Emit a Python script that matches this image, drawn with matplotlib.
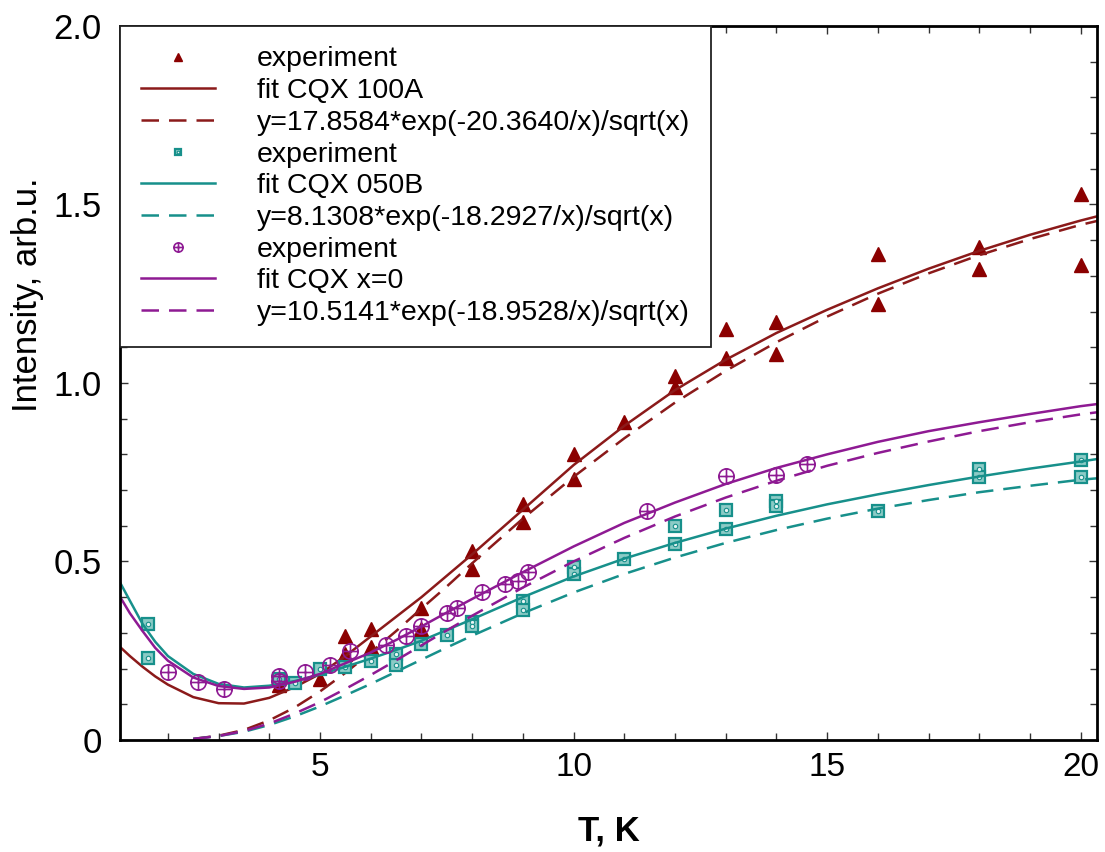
import matplotlib
matplotlib.use("Agg")
import matplotlib.pyplot as plt
from matplotlib import font_manager
from matplotlib.path import Path
import numpy as np

# ====== data ======
# experiment points (T in K, intensity in arb.u.)
red_T = [4.2, 5.0, 5.5, 5.5, 6.0, 6.0, 7.0, 7.0, 8.0, 8.0, 9.0, 9.0, 10.0, 10.0,
         11.0, 12.0, 12.0, 13.0, 13.0, 14.0, 14.0, 16.0, 16.0, 18.0, 18.0, 20.0, 20.0]
red_y = [0.155, 0.17, 0.29, 0.24, 0.31, 0.26, 0.37, 0.31, 0.53, 0.48, 0.66, 0.61, 0.80, 0.73,
         0.89, 1.02, 0.99, 1.15, 1.07, 1.17, 1.08, 1.36, 1.22, 1.38, 1.32, 1.53, 1.33]

teal_T = [1.6, 1.6, 4.2, 4.5, 5.0, 5.5, 6.0, 6.5, 6.5, 7.0, 7.5, 8.0, 8.0, 9.0, 9.0,
          10.0, 10.0, 11.0, 12.0, 12.0, 13.0, 13.0, 14.0, 14.0, 16.0, 18.0, 18.0, 20.0, 20.0]
teal_y = [0.325, 0.23, 0.17, 0.16, 0.20, 0.205, 0.22, 0.24, 0.21, 0.27, 0.295, 0.33, 0.32, 0.39, 0.365,
          0.485, 0.465, 0.507, 0.60, 0.55, 0.645, 0.59, 0.67, 0.655, 0.64, 0.76, 0.737, 0.784, 0.737]

purp_T = [2.0, 2.6, 3.1, 4.2, 4.2, 4.7, 5.2, 5.6, 6.3, 6.7, 7.0, 7.5, 7.7, 8.2, 8.65,
          8.9, 9.1, 11.45, 13.0, 14.0, 14.6]
purp_y = [0.19, 0.162, 0.143, 0.18, 0.165, 0.19, 0.21, 0.25, 0.265, 0.29, 0.32, 0.355, 0.37, 0.415, 0.437,
          0.445, 0.47, 0.64, 0.74, 0.742, 0.773]

# fit curves (solid)
fit_T = [1.06, 1.25, 1.5, 1.75, 2.0, 2.5, 3.0, 3.5, 4.0, 4.5, 5.0, 5.5, 6.0, 6.5, 7.0, 7.5, 8.0,
         9.0, 10.0, 11.0, 12.0, 13.0, 14.0, 15.0, 16.0, 17.0, 18.0, 19.0, 20.0, 20.33]
fit_red = [0.26, 0.235, 0.205, 0.178, 0.155, 0.12, 0.103, 0.102, 0.118, 0.148, 0.185, 0.235, 0.29, 0.345,
           0.40, 0.46, 0.52, 0.645, 0.77, 0.88, 0.98, 1.065, 1.14, 1.205, 1.265, 1.32, 1.37, 1.415, 1.455, 1.467]
fit_teal = [0.44, 0.39, 0.325, 0.275, 0.235, 0.185, 0.157, 0.147, 0.152, 0.165, 0.183, 0.205, 0.228, 0.252,
            0.278, 0.308, 0.338, 0.40, 0.458, 0.508, 0.552, 0.592, 0.628, 0.66, 0.688, 0.714, 0.738, 0.76, 0.78, 0.787]
fit_purp = [0.40, 0.355, 0.305, 0.258, 0.222, 0.175, 0.151, 0.143, 0.147, 0.163, 0.185, 0.215, 0.245, 0.28,
            0.318, 0.357, 0.395, 0.47, 0.542, 0.608, 0.665, 0.717, 0.762, 0.80, 0.835, 0.865, 0.89, 0.913, 0.935, 0.941]

# activation-law curves (dashed)
act_T = [2.5, 3.0, 3.5, 4.0, 4.5, 5.0, 5.5, 6.0, 6.5, 7.0, 7.5, 8.0, 9.0, 10.0, 11.0, 12.0,
         13.0, 14.0, 15.0, 16.0, 17.0, 18.0, 19.0, 20.0, 20.33]
act_red = [0.003, 0.012, 0.028, 0.055, 0.091, 0.136, 0.188, 0.245, 0.305, 0.368, 0.43, 0.495, 0.62, 0.737,
           0.845, 0.945, 1.034, 1.114, 1.186, 1.25, 1.307, 1.358, 1.403, 1.443, 1.454]
act_teal = [0.003, 0.011, 0.023, 0.042, 0.066, 0.094, 0.125, 0.157, 0.191, 0.225, 0.259, 0.292, 0.355, 0.413,
            0.465, 0.511, 0.552, 0.588, 0.62, 0.648, 0.672, 0.694, 0.712, 0.729, 0.733]
act_purp = [0.003, 0.011, 0.025, 0.046, 0.074, 0.106, 0.143, 0.182, 0.223, 0.265, 0.307, 0.348, 0.427, 0.50,
            0.566, 0.626, 0.679, 0.726, 0.768, 0.804, 0.836, 0.865, 0.89, 0.912, 0.918]

labels_red = ["experiment", "fit CQX 100A", "y=17.8584*exp(-20.3640/x)/sqrt(x)"]
labels_teal = ["experiment", "fit CQX 050B", "y=8.1308*exp(-18.2927/x)/sqrt(x)"]
labels_purp = ["experiment", "fit CQX x=0", "y=10.5141*exp(-18.9528/x)/sqrt(x)"]

RED = "#8B1A1A"
TEAL = "#17908B"
PURP = "#8E1A93"


def pick_font(name, fallback):
    try:
        font_manager.findfont(name, fallback_to_default=False)
        return name
    except Exception:
        return fallback


NARROW = pick_font("Liberation Sans Narrow", "Liberation Sans")
plt.rcParams["font.family"] = ["Liberation Sans", "DejaVu Sans"]

# circle with a plus inside
circ = Path.unit_circle()
cross = Path([(-1, 0), (1, 0), (0, -1), (0, 1)],
             [Path.MOVETO, Path.LINETO, Path.MOVETO, Path.LINETO])
oplus = Path.make_compound_path(circ, cross)

fig = plt.figure(figsize=(11.05, 8.52), dpi=100)
ax = fig.add_axes([0.1086, 0.1315, 0.8845, 0.838])

dash = (7, 4)

h1, = ax.plot(red_T, red_y, ls="none", marker="^", ms=10, color="#8B0000", mec="#8B0000")
h2, = ax.plot(fit_T, fit_red, color=RED, lw=1.8)
h3, = ax.plot(act_T, act_red, color=RED, lw=1.8, dashes=dash)

h4a, = ax.plot(teal_T, teal_y, ls="none", marker="s", ms=8, mfc="#8ccbc6", mec=TEAL, mew=1.6)
h4b, = ax.plot(teal_T, teal_y, ls="none", marker="o", ms=3.2, mfc="#e8f5f4", mec=TEAL, mew=0.8)
h5, = ax.plot(fit_T, fit_teal, color=TEAL, lw=1.8)
h6, = ax.plot(act_T, act_teal, color=TEAL, lw=1.8, dashes=dash)

h7, = ax.plot(purp_T, purp_y, ls="none", marker=oplus, ms=11, mfc="none", mec=PURP, mew=1.2)
h8, = ax.plot(fit_T, fit_purp, color=PURP, lw=1.8)
h9, = ax.plot(act_T, act_purp, color=PURP, lw=1.8, dashes=dash)

ax.set_xlim(1.055, 20.33)
ax.set_ylim(0, 2.0)
ax.set_xticks([5, 10, 15, 20])
ax.set_xticks(np.arange(2, 21, 1), minor=True)
ax.set_yticks([0, 0.5, 1.0, 1.5, 2.0])
ax.set_yticklabels(["0", "0.5", "1.0", "1.5", "2.0"])
ax.set_yticks(np.arange(0, 2.01, 0.1), minor=True)
ax.tick_params(which="both", direction="in", top=True, right=True, width=1, color="#333333")
ax.tick_params(which="major", length=6)
ax.tick_params(which="minor", length=5)
ax.tick_params(axis="y", labelsize=25, pad=13)
ax.tick_params(axis="x", labelsize=24, pad=9)
for lab in ax.get_xticklabels():
    lab.set_family(NARROW)
for s in ax.spines.values():
    s.set_linewidth(2)

ax.set_xlabel("T, K", fontsize=25, fontweight="bold", family=NARROW, labelpad=22)
ax.set_ylabel("Intensity, arb.u.", fontsize=25, family=NARROW)
ax.yaxis.set_label_coords(-0.078, 0.623)

handles = [h1, h2, h3, (h4a, h4b), h5, h6, h7, h8, h9]
labels = labels_red + labels_teal + labels_purp
leg = ax.legend(handles, labels, loc="upper left", bbox_to_anchor=(0, 1), borderaxespad=0,
                fontsize=20.5, frameon=True, fancybox=False, framealpha=1, edgecolor="#222222",
                handlelength=2.6, handletextpad=1.5, labelspacing=0.2, markerscale=0.6,
                borderpad=0.72)
leg.get_frame().set_linewidth(1.3)

fig.savefig("out.png", dpi=100)
